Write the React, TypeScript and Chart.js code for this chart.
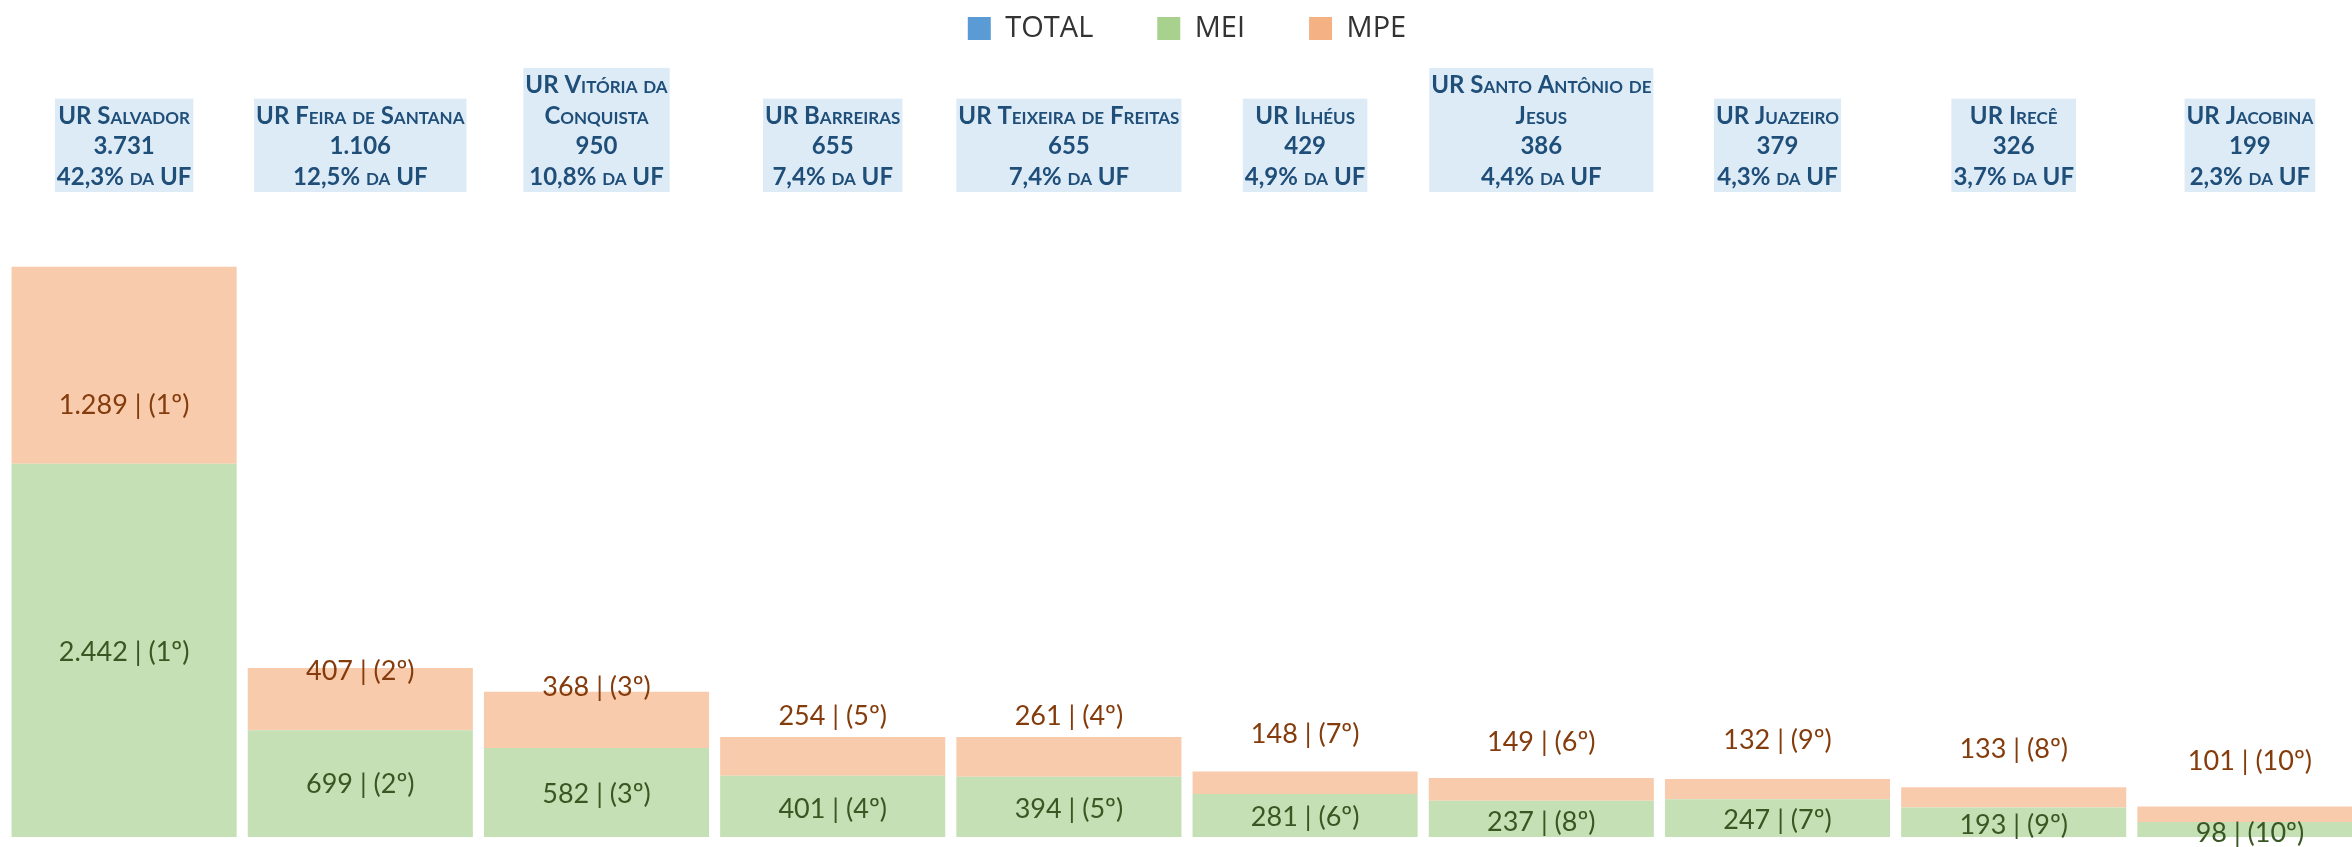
import React, { useEffect, useRef } from "react";
import { Chart, registerables } from "chart.js";

Chart.register(...registerables);

// ---------- data ----------
const CATEGORIES: string[][] = [
  ["UR Salvador"],
  ["UR Feira de Santana"],
  ["UR Vitória da", "Conquista"],
  ["UR Barreiras"],
  ["UR Teixeira de Freitas"],
  ["UR Ilhéus"],
  ["UR Santo Antônio de", "Jesus"],
  ["UR Juazeiro"],
  ["UR Irecê"],
  ["UR Jacobina"],
];
const TOTAL = [3731, 1106, 950, 655, 655, 429, 386, 379, 326, 199];
const MEI = [2442, 699, 582, 401, 394, 281, 237, 247, 193, 98];
const MPE = [1289, 407, 368, 254, 261, 148, 149, 132, 133, 101];
const SHARE_UF = [42.3, 12.5, 10.8, 7.4, 7.4, 4.9, 4.4, 4.3, 3.7, 2.3];
const MEI_RANK = [1, 2, 3, 4, 5, 6, 8, 7, 9, 10];
const MPE_RANK = [1, 2, 3, 5, 4, 7, 6, 9, 8, 10];

// ---------- styling ----------
const MPE_LABEL_SHIFT = [138, 3, -5, -21, -21, -37, -36, -39, -38, -45];
const MEI_LABEL_SHIFT = [2, 1, 2, 3, 2, 2, 3, 2, 3, 4];
const LEGEND_COLORS = ["#5B9BD5", "#A9D18E", "#F4B183"];

const fmt = (n: number) =>
  String(n).replace(/\B(?=(\d{3})+(?!\d))/g, ".");

const labelsPlugin = {
  id: "customLabels",
  afterDatasetsDraw(chart: any) {
    const ctx = chart.ctx as CanvasRenderingContext2D;
    ctx.save();
    ctx.textAlign = "center";
    ctx.textBaseline = "middle";
    ctx.font = "27px Lato";
    const meiMeta = chart.getDatasetMeta(1);
    meiMeta.data.forEach((bar: any, i: number) => {
      ctx.fillStyle = "#385723";
      ctx.fillText(
        `${fmt(MEI[i])} | (${MEI_RANK[i]}º)`,
        bar.x,
        (bar.y + bar.base) / 2 + MEI_LABEL_SHIFT[i]
      );
    });
    const mpeMeta = chart.getDatasetMeta(2);
    mpeMeta.data.forEach((bar: any, i: number) => {
      ctx.fillStyle = "#843C0C";
      ctx.fillText(
        `${fmt(MPE[i])} | (${MPE_RANK[i]}º)`,
        bar.x,
        bar.y + MPE_LABEL_SHIFT[i]
      );
    });
    ctx.restore();
  },
  afterDraw(chart: any) {
    const ctx = chart.ctx as CanvasRenderingContext2D;
    const xs = chart.scales.x;
    ctx.save();
    ctx.font = "small-caps bold 24px Lato";
    try {
      (ctx as any).fontVariantCaps = "small-caps";
    } catch (e) {}
    ctx.textAlign = "center";
    ctx.textBaseline = "alphabetic";
    const lineH = 30.7;
    const lastBaseline = 185;
    const boxBottom = 192;
    CATEGORIES.forEach((name, i) => {
      const lines = [
        ...name,
        fmt(TOTAL[i]),
        `${SHARE_UF[i].toFixed(1).replace(".", ",")}% da UF`,
      ];
      const x = xs.getPixelForValue(i);
      const firstBaseline = lastBaseline - (lines.length - 1) * lineH;
      const boxTop = firstBaseline - 25;
      const w = Math.max(...lines.map((l) => ctx.measureText(l).width)) + 4;
      ctx.fillStyle = "#DDEBF7";
      ctx.fillRect(x - w / 2, boxTop, w, boxBottom - boxTop);
      ctx.fillStyle = "#1F4E79";
      lines.forEach((l, k) => {
        ctx.fillText(l, x, firstBaseline + k * lineH);
      });
    });
    ctx.restore();
  },
};

export default function App() {
  const canvasRef = useRef<HTMLCanvasElement | null>(null);

  useEffect(() => {
    const canvas = canvasRef.current;
    if (!canvas) return;
    const chart = new Chart(canvas, {
      type: "bar",
      data: {
        labels: CATEGORIES.map((c) => c.join(" ")),
        datasets: [
          {
            type: "line" as any,
            label: "TOTAL",
            data: TOTAL,
            showLine: false,
            pointRadius: 0,
            pointHoverRadius: 0,
            borderColor: LEGEND_COLORS[0],
            backgroundColor: LEGEND_COLORS[0],
            stack: "total",
          } as any,
          {
            label: "MEI",
            data: MEI,
            backgroundColor: "#C5E0B4",
            borderWidth: 0,
            stack: "a",
            categoryPercentage: 1,
            barPercentage: 0.953,
          },
          {
            label: "MPE",
            data: MPE,
            backgroundColor: "#F8CBAD",
            borderWidth: 0,
            stack: "a",
            categoryPercentage: 1,
            barPercentage: 0.953,
          },
        ],
      },
      options: {
        responsive: false,
        animation: false,
        devicePixelRatio: 1,
        layout: { padding: { top: -50, left: 6, right: 0, bottom: 10 } },
        scales: {
          x: { stacked: true, display: false },
          y: { stacked: true, display: false, min: 0, max: 5130 },
        },
        plugins: {
          tooltip: { enabled: false },
          legend: {
            position: "top",
            align: "center",
            labels: {
              font: { family: "Open Sans", size: 29 },
              color: "#333333",
              boxWidth: 23,
              boxHeight: 23,
              padding: 64,
              generateLabels: (c: any) => {
                const items = (Chart.defaults.plugins.legend.labels as any).generateLabels(c);
                items.forEach((it: any, i: number) => {
                  it.fillStyle = LEGEND_COLORS[i];
                  it.strokeStyle = LEGEND_COLORS[i];
                  it.lineWidth = 0;
                });
                return items;
              },
            },
          },
        },
      },
      plugins: [labelsPlugin],
    });
    return () => chart.destroy();
  }, []);

  return (
    <div
      style={{
        position: "fixed",
        left: 0,
        top: 0,
        width: 2352,
        height: 847,
        overflow: "hidden",
        background: "#ffffff",
      }}
    >
      <canvas
        ref={canvasRef}
        width={2368}
        height={847}
        style={{ display: "block", width: 2368, height: 847 }}
      />
    </div>
  );
}
